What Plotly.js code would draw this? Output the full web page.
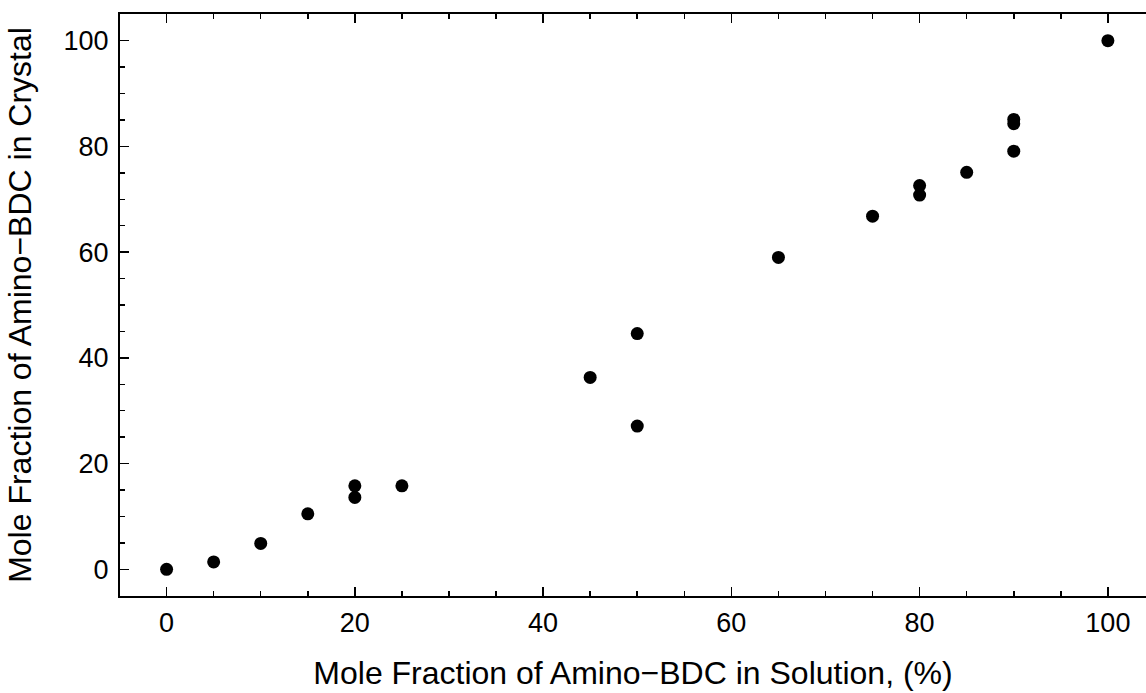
<!DOCTYPE html>
<html>
<head>
<meta charset="utf-8">
<script src="https://cdn.plot.ly/plotly-3.0.1.min.js"></script>
<style>html,body{margin:0;padding:0;background:#fff;}#chart{width:1146px;height:693px;}</style>
</head>
<body>
<div id="chart"></div>
<script>
// Mole fraction of amino-BDC in solution (%)
const solution = [0, 5, 10, 15, 20, 20, 25, 45, 50, 50, 65, 75, 80, 80, 85, 90, 90, 90, 100];
// Mole fraction of amino-BDC in crystal (%)
const crystal = [0, 1.4, 4.9, 10.5, 15.8, 13.6, 15.8, 36.3, 44.6, 27.1, 59.0, 66.8, 72.6, 70.8, 75.1, 85.1, 84.3, 79.1, 100];
const xTicks = [0, 20, 40, 60, 80, 100];
const yTicks = [0, 20, 40, 60, 80, 100];

const font = "Liberation Sans, Arial, sans-serif";

const trace = {
  x: solution,
  y: crystal,
  type: 'scatter',
  mode: 'markers',
  marker: {color: '#000', size: 13},
  hoverinfo: 'x+y'
};

const axisCommon = {
  showgrid: false,
  zeroline: false,
  showline: true,
  linecolor: '#000',
  linewidth: 2,
  ticks: 'inside',
  ticklen: 9,
  tickwidth: 1.5,
  tickcolor: '#000',
  tickfont: {family: font, size: 27, color: '#000'},
  tickmode: 'array',
  automargin: false,
  minor: {dtick: 5, ticks: 'inside', ticklen: 5, tickwidth: 1.5, tickcolor: '#000', showgrid: false}
};

const layout = {
  width: 1146,
  height: 693,
  margin: {l: 120, r: 0, t: 14, b: 97},
  paper_bgcolor: '#fff',
  plot_bgcolor: '#fff',
  showlegend: false,
  xaxis: Object.assign({}, axisCommon, {
    range: [-4.95, 104.05],
    tickvals: xTicks,
    ticktext: xTicks.map(String),
    mirror: 'ticks',
    ticklabelstandoff: 2,
    title: {text: 'Mole Fraction of Amino\u2212BDC in Solution, (%)', font: {family: font, size: 32, color: '#000'}, standoff: 24}
  }),
  yaxis: Object.assign({}, axisCommon, {
    range: [-5.05, 105.05],
    tickvals: yTicks,
    ticktext: yTicks.map(String),
    mirror: false,
    ticklabelstandoff: 4,
    title: {text: 'Mole Fraction of Amino\u2212BDC in Crystal', font: {family: font, size: 32, color: '#000'}, standoff: 22}
  })
};

Plotly.newPlot('chart', [trace], layout, {displayModeBar: false, staticPlot: true});
</script>
</body>
</html>
